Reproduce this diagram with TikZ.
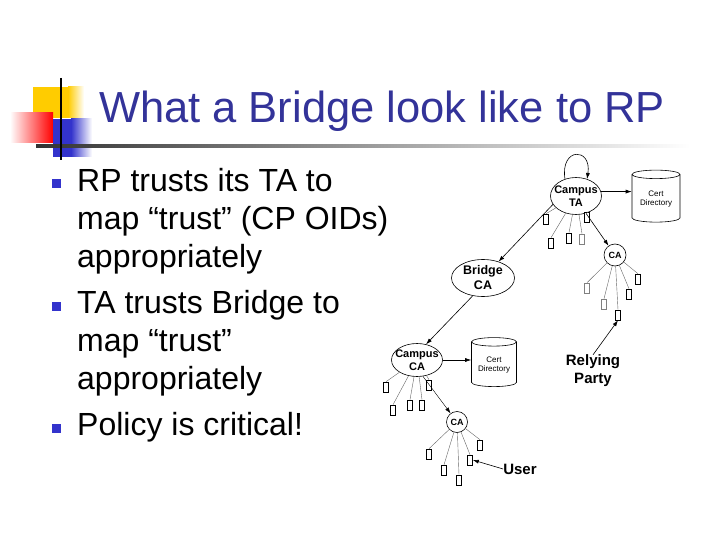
\documentclass[tikz,border=0pt]{standalone}
\usepackage{fontspec}
\setmainfont{Liberation Sans}
\usetikzlibrary{arrows.meta, shapes.geometric}
\definecolor{ctitle}{HTML}{333399}
\definecolor{cbullet}{HTML}{3333CC}
\definecolor{cyellow}{HTML}{FFCC00}
\definecolor{cred}{HTML}{FF0000}
\definecolor{cblue}{HTML}{3333CC}

\begin{document}
\begin{tikzpicture}[x=1pt, y=-1pt,
  title/.style={anchor=base, inner sep=0pt, text=ctitle, font=\fontsize{43.5}{50}\selectfont},
  bullet/.style={fill=cbullet, minimum size=9pt, inner sep=0pt},
  item/.style={anchor=base west, align=left, inner sep=0pt, font=\fontsize{32}{38}\selectfont},
  oval/.style={draw, ellipse, inner sep=0pt, line width=0.6pt},
  lbl/.style={align=center, inner sep=0pt, font=\bfseries\fontsize{11}{13.5}\selectfont},
  dir/.style={draw, cylinder, shape border rotate=90, aspect=0.25, line width=0.6pt, align=center, inner sep=1pt, font=\fontsize{8}{9.5}\selectfont},
  leaf/.style={draw, fill=white, line width=0.6pt, minimum width=5pt, minimum height=10pt, inner sep=0pt},
  twig/.style={draw=black!60, line width=0.4pt},
  arr/.style={-{Latex[length=6pt, width=4pt]}, line width=0.6pt},
  tag/.style={align=center, inner sep=0pt, font=\bfseries\fontsize{15}{18}\selectfont}
]
  \useasboundingbox (0,0) rectangle (720,540);

  % logo
  \fill[cyellow] (33,87) rectangle (68,118);
  \shade[left color=cyellow, right color=white] (68,87) rectangle (84,118);
  \shade[left color=white, right color=cred] (10,113) rectangle (53,143);
  \fill[cblue] (53,119) rectangle (71,157);
  \shade[left color=cblue, right color=white] (71,119) rectangle (92,157);
  \shade[left color=black!80, right color=white] (36,145) rectangle (690,148);
  \draw[line width=2pt] (61,78) -- (61,160);

  \node[title] (title) at (382,123) {What a Bridge look like to RP};

  % bullets (base = last line)
  \node[bullet] (sq1) at (56.5,184) {};
  \node[bullet] (sq2) at (56.5,306) {};
  \node[bullet] (sq3) at (56.5,428) {};
  \node[item] (it1) at (77,267) {RP trusts its TA to\\map “trust” (CP OIDs)\\appropriately};
  \node[item] (it2) at (77,389) {TA trusts Bridge to\\map “trust”\\appropriately};
  \node[item] (it3) at (77,435) {Policy is critical!};

  % trust tree
  \node[oval, minimum width=51pt, minimum height=37pt] (campusTA) at (576,196) {};
  \node[lbl] (tCampusTA) at (campusTA) {Campus\\TA};
  \node[dir, minimum width=48pt, minimum height=52pt] (dirTA) at (656,199) {Cert\\Directory};
  \node[oval, minimum size=22pt, font=\bfseries\fontsize{9}{9}\selectfont] (caTop) at (615,255) {CA};
  \node[oval, minimum width=63pt, minimum height=37pt] (bridge) at (483,278) {};
  \node[lbl, font=\bfseries\fontsize{12.5}{15}\selectfont] (tBridge) at (bridge) {Bridge\\CA};
  \node[oval, minimum width=51pt, minimum height=33pt] (campusCA) at (417,360) {};
  \node[lbl] (tCampusCA) at (campusCA) {Campus\\CA};
  \node[dir, minimum width=45pt, minimum height=49pt] (dirCA) at (494,365) {Cert\\Directory};
  \node[oval, minimum size=21pt, font=\bfseries\fontsize{9}{9}\selectfont] (caLow) at (457,422) {CA};

  \node[tag] (rp) at (593,371) {Relying\\Party};
  \node[tag] (user) at (520,469) {User};

  % leaves
  \foreach \n/\p/\c in {t1/{546,219}/black, t2/{551,243}/black, t3/{569,238}/black, t4/{582,239}/black!50, t5/{587,217}/black}
    {\node[leaf, draw=\c] (\n) at (\p) {}; \draw[twig] (campusTA) -- (\n.north);}
  \foreach \n/\p/\c in {c1/{587,288}/black!50, c2/{604,304}/black!50, c3/{618,315}/black, c4/{629,294}/black, c5/{638,279}/black}
    {\node[leaf, draw=\c] (\n) at (\p) {}; \draw[twig] (caTop) -- (\n.north);}
  \foreach \n/\p in {l1/{386,387}, l2/{393,410}, l3/{410,405}, l4/{422,405}, l5/{429,385}}
    {\node[leaf] (\n) at (\p) {}; \draw[twig] (campusCA) -- (\n.north);}
  \foreach \n/\p in {m1/{429,454}, m2/{444,470}, m3/{459,480}, m4/{470,460}, m5/{480,445}}
    {\node[leaf] (\n) at (\p) {}; \draw[twig] (caLow) -- (\n.north);}

  % arrows
  \draw[arr] (campusTA.123) .. controls (560,147) and (592,147) .. (campusTA.57);
  \draw[arr] (campusTA.10) -- (campusTA.10 -| dirTA.west);
  \draw[arr] (campusTA.-60) -- (caTop);
  \draw[arr] (campusTA.200) -- (bridge);
  \draw[arr] (bridge.240) -- (campusCA.60);
  \draw[arr] (campusCA.east) -- (campusCA.east -| dirCA.west);
  \draw[arr, line width=0.4pt] (campusCA.-70) -- (caLow);
  \draw[arr] (rp.north) -- (c3.south);
  \draw[arr] (user.west) -- (m4.east);
\end{tikzpicture}
\end{document}
